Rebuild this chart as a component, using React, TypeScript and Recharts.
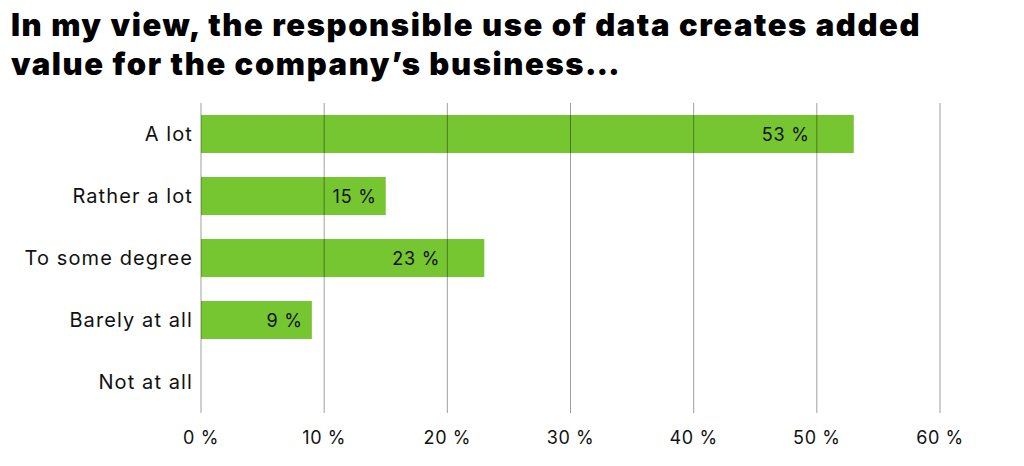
import React from "react";
import { BarChart, Bar, XAxis, YAxis, ReferenceLine, LabelList } from "recharts";

const categories = ["A lot", "Rather a lot", "To some degree", "Barely at all", "Not at all"];
const values = [53, 15, 23, 9, 0];
const xTicks = [0, 10, 20, 30, 40, 50, 60];
const titleLines = [
  "In my view, the responsible use of data creates added",
  "value for the company\u2019s business\u2026",
];

const data = categories.map((c, i) => ({ name: c, value: values[i] }));

const FONT = "Inter, 'Noto Sans', sans-serif";
const GREEN = "#76c631";

const fmt = (v: number) => `${v} %`;

const ValueLabel = (props: any) => {
  const { x, y, width, height, value } = props;
  if (!value) return null;
  const text = fmt(value);
  const fs = 18;
  const tw = text.length * 0.65 * fs;
  let right = x + width - 9;
  const left = right - tw;
  const per = width / value;
  for (const g of xTicks) {
    const gx = x + g * per;
    if (g > 0 && gx > left - 4 && gx < right + 4) {
      right = gx - 7;
    }
  }
  return (
    <text
      x={right}
      y={y + height / 2}
      textAnchor="end"
      dominantBaseline="central"
      fontSize={fs}
      fontFamily={FONT}
      letterSpacing={0.8}
      fill="#111"
    >
      {text}
    </text>
  );
};

export default function App() {
  return (
    <div style={{ position: "absolute", left: 0, top: 0, width: 1024, height: 466, background: "#fff" }}>
      <div
        style={{
          position: "absolute",
          left: 11,
          top: 5,
          fontFamily: FONT,
          fontWeight: 900,
          fontSize: 31,
          lineHeight: "39px",
          letterSpacing: "1.6px",
          color: "#000",
          whiteSpace: "nowrap",
        }}
      >
        {titleLines.map((l, i) => (
          <div key={i}>{l}</div>
        ))}
      </div>
      <BarChart
        width={1024}
        height={466}
        data={data}
        layout="vertical"
        margin={{ top: 103, right: 84, bottom: 0, left: 0 }}
        barCategoryGap={12}
      >
        <XAxis
          type="number"
          domain={[0, 60]}
          ticks={xTicks}
          tickFormatter={fmt}
          axisLine={false}
          tickLine={false}
          tickMargin={12}
          height={53}
          tick={{ fontSize: 18, fontFamily: FONT, fill: "#111", letterSpacing: 0.6 }}
          interval={0}
        />
        <YAxis
          type="category"
          dataKey="name"
          width={201}
          axisLine={false}
          tickLine={false}
          tick={{ fontSize: 20, fontFamily: FONT, fill: "#111", letterSpacing: 1.1 }}
          interval={0}
        />
        <Bar dataKey="value" fill={GREEN} isAnimationActive={false}>
          <LabelList dataKey="value" content={<ValueLabel />} />
        </Bar>
        {xTicks.map((t) => (
          <ReferenceLine key={t} x={t} stroke="rgba(0,0,0,0.38)" strokeWidth={1} />
        ))}
      </BarChart>
    </div>
  );
}
